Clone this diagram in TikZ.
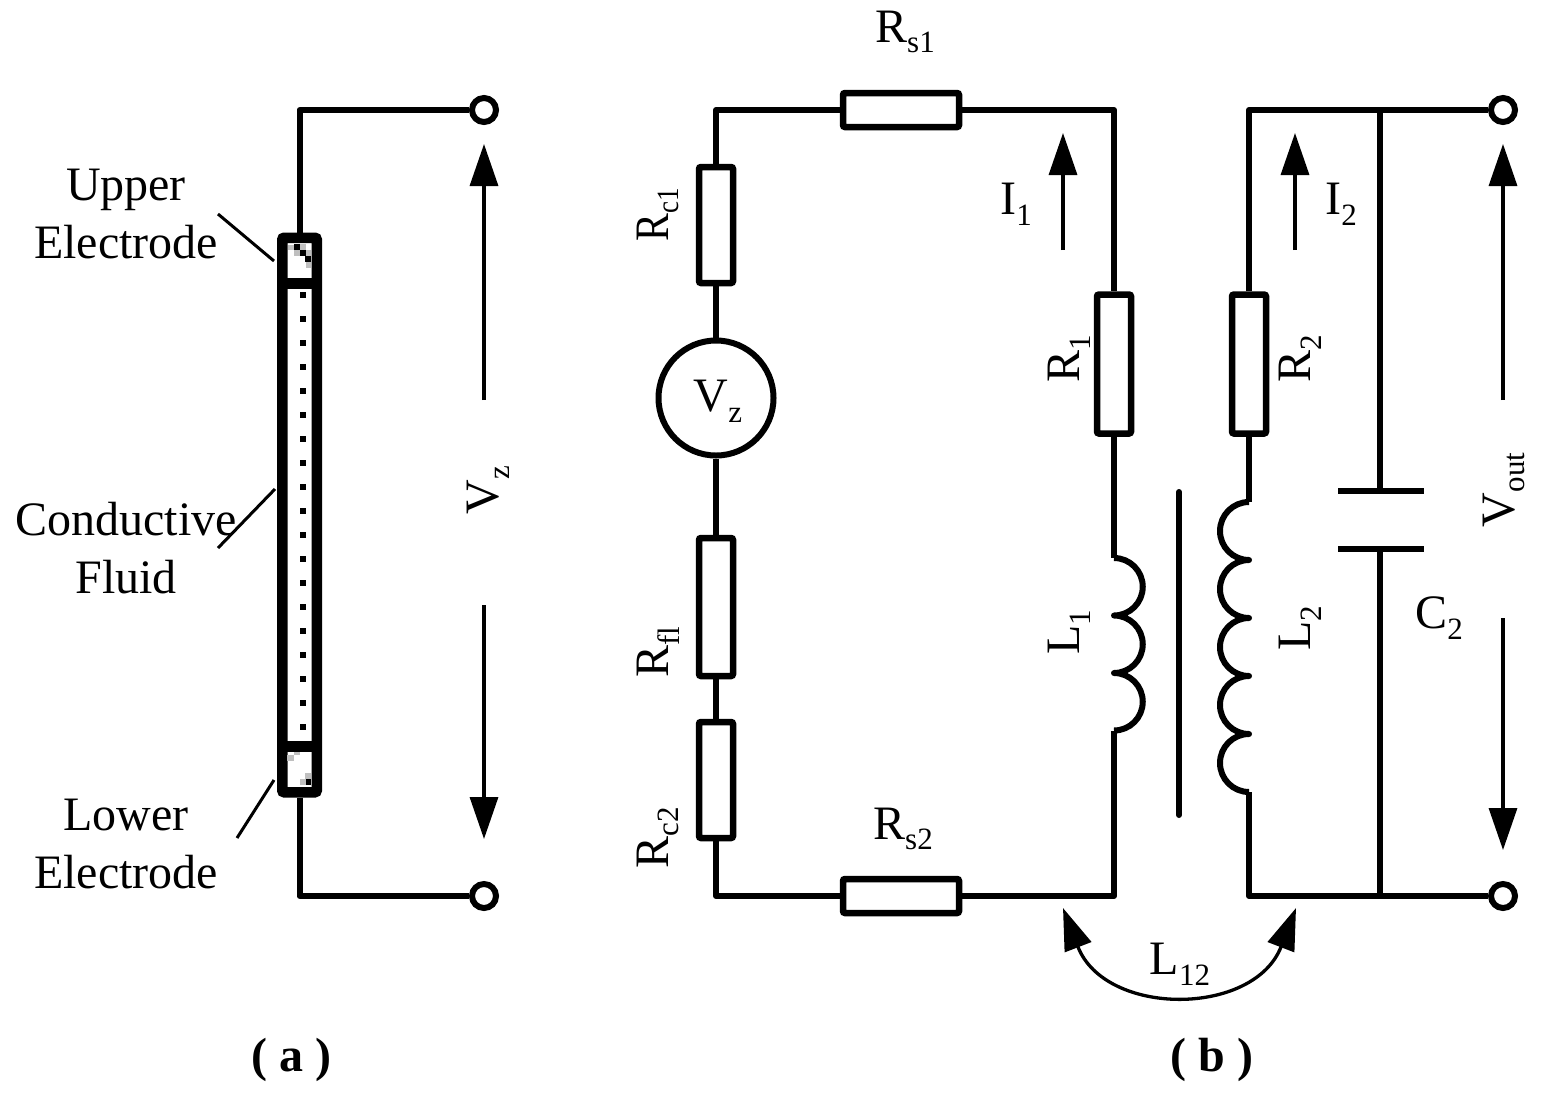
\documentclass[tikz,border=0pt]{standalone}
\usepackage{fontspec}
\setmainfont{Liberation Serif}
\usetikzlibrary{arrows.meta}
\newcommand{\subs}[1]{\raisebox{-0.22em}{\fontsize{31}{31}\selectfont #1}}
\tikzstyle{wire} = [draw, line width=6pt, line join=round]
\tikzstyle{res} = [draw, line width=6.5pt, rectangle, rounded corners=2pt, inner sep=0pt]
\tikzstyle{hres} = [res, minimum width=116pt, minimum height=34pt]
\tikzstyle{vres} = [res, minimum width=34pt]
\tikzstyle{term} = [draw, line width=6pt, circle, fill=white, inner sep=0pt, minimum size=24pt]
\tikzstyle{label} = [inner sep=0pt, font=\fontsize{48}{58}\selectfont]
\tikzstyle{side} = [label, rotate=90]
\tikzstyle{flow} = [draw, line width=3.3pt, -{Triangle[length=42pt, width=28pt]}]
\tikzstyle{leader} = [draw, line width=3pt]
\begin{document}
\begin{tikzpicture}[x=1pt, y=-1pt]
	\useasboundingbox (0,0) rectangle (1553,1096);

	\node[draw, line width=10.5pt, rounded corners=2pt, minimum width=34.5pt, minimum height=554.5pt, inner sep=0pt] (electrode) at (299.5,515) {};
	\coordinate (upperLeft) at (282,283.5);
	\coordinate (upperRight) at (316.5,283.5);
	\coordinate (lowerLeft) at (282,746.5);
	\coordinate (lowerRight) at (316.5,746.5);
	\path[draw, line width=10.5pt] (upperLeft) -- (upperRight);
	\path[draw, line width=10.5pt] (lowerLeft) -- (lowerRight);
	\foreach \y in {295,319,...,727}
		\fill (300,\y-3) rectangle (306,\y+3);
	\fill (294,244) rectangle (300,250);
	\fill (300,250) rectangle (306,256);
	\fill (305,256) rectangle (311,262);
	\fill[black!25] (288,245) rectangle (294,250);
	\fill[black!25] (300,244) rectangle (306,250);
	\fill[black!25] (294,250) rectangle (300,256);
	\fill[black!25] (306,250) rectangle (311,256);
	\fill[black!25] (306,262) rectangle (311,268);
	\fill[black!25] (287,755) rectangle (294,761);
	\fill[black!25] (294,752) rectangle (300,755);
	\fill[black!25] (305,773) rectangle (311,779);
	\fill[black!25] (300,779) rectangle (306,785);
	\fill (306,779) rectangle (311,785);

	\node[term] (vzTop) at (484,110) {};
	\node[term] (vzBottom) at (484,896) {};
	\path[wire] (electrode.north) |- (vzTop.west);
	\path[wire] (electrode.south) |- (vzBottom.west);
	\coordinate (vzUpperStart) at (484,400);
	\coordinate (vzUpperEnd) at (484,144);
	\coordinate (vzLowerStart) at (484,605);
	\coordinate (vzLowerEnd) at (484,839);
	\path[flow] (vzUpperStart) -- (vzUpperEnd);
	\path[flow] (vzLowerStart) -- (vzLowerEnd);
	\node[side] (vzLabel) at (488,490) {V\subs{z}};

	\node[label, align=center] (upperLabel) at (126,214) {Upper\\Electrode};
	\node[label, align=center] (fluidLabel) at (126,548) {Conductive\\Fluid};
	\node[label, align=center] (lowerLabel) at (126,844) {Lower\\Electrode};
	\coordinate (upperTip) at (274,261);
	\coordinate (upperTail) at (218,214);
	\coordinate (fluidTip) at (275,489);
	\coordinate (fluidTail) at (218,548);
	\coordinate (lowerTip) at (274,780);
	\coordinate (lowerTail) at (237,838);
	\path[leader] (upperTail) -- (upperTip);
	\path[leader] (fluidTail) -- (fluidTip);
	\path[leader] (lowerTail) -- (lowerTip);

	\node[hres] (rs1) at (901,110) {};
	\node[hres] (rs2) at (901,896) {};
	\node[vres, minimum height=116pt] (rc1) at (716,225) {};
	\node[draw, line width=6pt, circle, inner sep=0pt, minimum size=115pt] (source) at (716,398) {};
	\node[vres, minimum height=138pt] (rf1) at (716,607) {};
	\node[vres, minimum height=116pt] (rc2) at (716,780) {};
	\node[vres, minimum height=139pt] (r1) at (1114,364) {};
	\node[vres, minimum height=139pt] (r2) at (1249,364) {};

	\coordinate (l1Top) at (1114,558);
	\coordinate (l1Bottom) at (1114,730.5);
	\coordinate (l2Top) at (1249,502);
	\coordinate (l2Bottom) at (1249,792);
	\coordinate (coreTop) at (1179,492);
	\coordinate (coreBottom) at (1179,815);
	\coordinate (c2Upper) at (1380,491);
	\coordinate (c2Lower) at (1380,549);
	\coordinate (c2Top) at (1380,110);
	\coordinate (c2Bottom) at (1380,896);
	\node[term] (voutTop) at (1503,110) {};
	\node[term] (voutBottom) at (1503,896) {};

	\path[wire] (rc1.north) |- (rs1.west);
	\path[wire] (rs1.east) -| (r1.north);
	\path[wire] (rc1.south) -- (source.north);
	\path[wire] (source.south) -- (rf1.north);
	\path[wire] (rf1.south) -- (rc2.north);
	\path[wire] (rc2.south) |- (rs2.west);
	\path[wire] (rs2.east) -| (l1Bottom);
	\path[wire] (r1.south) -- (l1Top);
	\path[wire] (l1Top) arc[start angle=-90, end angle=90, radius=28.75]
		arc[start angle=-90, end angle=90, radius=28.75]
		arc[start angle=-90, end angle=90, radius=28.75];
	\path[wire] (r2.north) |- (voutTop.west);
	\path[wire] (r2.south) -- (l2Top);
	\path[wire] (l2Top) arc[start angle=-90, end angle=-270, radius=29]
		arc[start angle=-90, end angle=-270, radius=29]
		arc[start angle=-90, end angle=-270, radius=29]
		arc[start angle=-90, end angle=-270, radius=29]
		arc[start angle=-90, end angle=-270, radius=29];
	\path[wire] (l2Bottom) |- (voutBottom.west);
	\path[wire, line cap=round] (coreTop) -- (coreBottom);
	\path[wire] (c2Top) -- (c2Upper);
	\path[wire] (c2Lower) -- (c2Bottom);
	\path[wire] ([xshift=-42pt]c2Upper) -- ([xshift=44pt]c2Upper);
	\path[wire] ([xshift=-42pt]c2Lower) -- ([xshift=44pt]c2Lower);

	\coordinate (i1Start) at (1063,250);
	\coordinate (i1End) at (1063,133);
	\coordinate (i2Start) at (1295,250);
	\coordinate (i2End) at (1295,133);
	\coordinate (voutUpperStart) at (1503,400);
	\coordinate (voutUpperEnd) at (1503,144);
	\coordinate (voutLowerStart) at (1503,618);
	\coordinate (voutLowerEnd) at (1503,850);
	\coordinate (l12Left) at (1063,908);
	\coordinate (l12Right) at (1296,908);
	\path[flow] (i1Start) -- (i1End);
	\path[flow] (i2Start) -- (i2End);
	\path[flow] (voutUpperStart) -- (voutUpperEnd);
	\path[flow] (voutLowerStart) -- (voutLowerEnd);
	\path[flow, {Triangle[length=42pt, width=28pt]}-{Triangle[length=42pt, width=28pt]}] (l12Left) .. controls (1105,1017) and (1254,1017) .. (l12Right);

	\node[label] (rs1Label) at (905,32) {R\subs{s1}};
	\node[label] (rs2Label) at (903,829) {R\subs{s2}};
	\node[side] (rc1Label) at (658,215) {\scalebox{0.87}[1]{R\subs{c1}}};
	\node[label] (sourceLabel) at (718,401) {V\subs{z}};
	\node[side] (rf1Label) at (658,652) {R\subs{fl}};
	\node[side] (rc2Label) at (658,838) {R\subs{c2}};
	\node[label] (i1Label) at (1016,204) {I\subs{1}};
	\node[label] (i2Label) at (1341,204) {I\subs{2}};
	\node[side] (r1Label) at (1069,359) {R\subs{1}};
	\node[side] (r2Label) at (1300,359) {R\subs{2}};
	\node[side] (l1Label) at (1069,632) {L\subs{1}};
	\node[side] (l2Label) at (1300,628) {L\subs{2}};
	\node[label] (c2Label) at (1439,618) {C\subs{2}};
	\node[side] (voutLabel) at (1504,490) {V\subs{out}};
	\node[label] (l12Label) at (1180,964) {L\subs{12}};
	\node[label, font=\fontsize{48}{58}\selectfont\bfseries] (aLabel) at (291,1060) {( a )};
	\node[label, font=\fontsize{48}{58}\selectfont\bfseries] (bLabel) at (1212,1060) {( b )};
\end{tikzpicture}
\end{document}
